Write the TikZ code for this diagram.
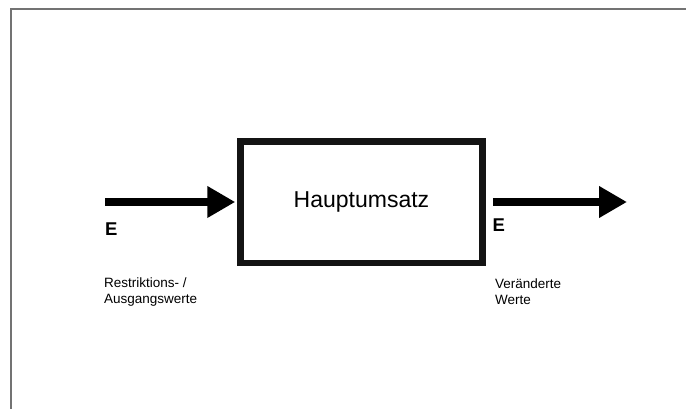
\documentclass[tikz,border=0pt]{standalone}
\usepackage{fontspec}
\setmainfont{Liberation Sans}
\usetikzlibrary{arrows.meta}
\begin{document}
\begin{tikzpicture}[x=1pt,y=-1pt,
  frameline/.style={draw=black!55,line width=2pt},
  flowarrow/.style={line width=7.5pt,-{Triangle[length=28pt,width=30pt]}},
  mainbox/.style={draw=black!92,line width=6.5pt,rectangle,minimum width=242pt,minimum height=121.5pt,inner sep=0pt,font=\fontsize{23}{27}\selectfont},
  elabel/.style={inner sep=0pt,anchor=west,font=\fontsize{18.5}{22}\selectfont\bfseries},
  smalltext/.style={inner sep=0pt,anchor=north west,align=left,font=\fontsize{13.5}{16}\selectfont}]
\useasboundingbox (0,0) rectangle (686,409);
\coordinate (ftr) at (686,9.5);
\coordinate (ftl) at (10.5,9.5);
\coordinate (fbl) at (10.5,409);
\draw[frameline] (ftr) -- (ftl) -- (fbl);
\node[mainbox] (main) at (361.5,202.25) {Hauptumsatz};
\coordinate (instart) at (105,202);
\coordinate (outend) at (627,202);
\draw[flowarrow,shorten >=2pt] (instart) -- (main.west |- instart);
\draw[flowarrow,shorten <=7pt] (main.east |- outend) -- (outend);
\node[elabel] (ein) at (105,229) {E};
\node[elabel] (eout) at (492.5,225) {E};
\node[smalltext] (restr) at (104,278) {Restriktions- /\\Ausgangswerte};
\node[smalltext] (veraend) at (495,279) {Veränderte\\Werte};
\end{tikzpicture}
\end{document}
